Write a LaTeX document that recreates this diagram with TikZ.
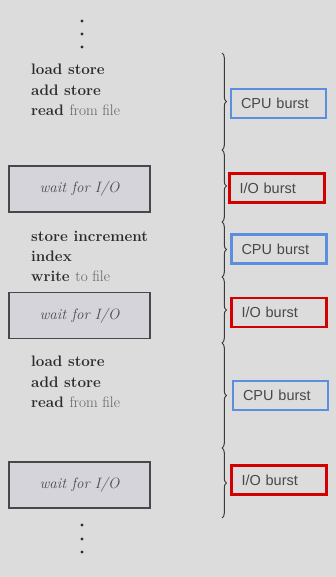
\documentclass[tikz,border=0pt]{standalone}
\usepackage{fontspec}
\newfontfamily\labelfont{Liberation Sans}
\usetikzlibrary{decorations.pathreplacing}
\definecolor{bg}{HTML}{DCDCDC}
\definecolor{boxfill}{HTML}{D5D4DB}
\definecolor{boxline}{HTML}{484848}
\definecolor{cpublue}{HTML}{5B8EDC}
\definecolor{iored}{HTML}{D20000}
\definecolor{darktext}{HTML}{2C2C2C}
\definecolor{lighttext}{HTML}{626262}
\definecolor{labeltext}{HTML}{484848}
\definecolor{bracecol}{HTML}{3A3A3A}
\begin{document}
\begin{tikzpicture}[x=1pt,y=-1pt,
  code/.style={anchor=base west,inner sep=0pt,font=\fontsize{15.2}{18}\selectfont\bfseries,text=darktext},
  waitbox/.style={draw=boxline,fill=boxfill,line width=1.4pt,minimum width=141pt,minimum height=46pt,
    inner sep=0pt,font=\fontsize{15}{18}\selectfont\itshape,text=darktext!85},
  burstbox/.style={line width=2.4pt,minimum width=95pt,minimum height=29pt,text width=75pt,align=left,
    inner xsep=10pt,inner ysep=0pt,font=\labelfont\fontsize{14.5}{16}\selectfont,text=labeltext},
  cpubox/.style={burstbox,draw=cpublue},
  iobox/.style={burstbox,draw=iored},
  bracedeco/.style={draw=bracecol,line width=1pt,decorate,decoration={brace,amplitude=4.5pt}},
  dot/.style={circle,fill=darktext,inner sep=0pt,minimum size=3.2pt}]
\fill[bg] (0,0) rectangle (336,577);
\useasboundingbox (0,0) rectangle (336,577);
% dots
\node[dot] (d1) at (82,21) {};
\node[dot] (d2) at (82,34) {};
\node[dot] (d3) at (82,47) {};
\node[dot] (d4) at (82,525) {};
\node[dot] (d5) at (82,539) {};
\node[dot] (d6) at (82,552) {};
% group 1
\node[code] (a1) at (31,75) {load store};
\node[code] (a2) at (31,95.5) {add store};
\node[code] (a3) at (31,116) {read \textcolor{lighttext}{\mdseries from file}};
\node[waitbox] (w1) at (79.5,189) {wait for I/O};
% group 2
\node[code] (b1) at (31,241) {store increment};
\node[code] (b2) at (31,261.5) {index};
\node[code] (b3) at (31,281.5) {write \textcolor{lighttext}{\mdseries to file}};
\node[waitbox] (w2) at (79.5,315.5) {wait for I/O};
% group 3
\node[code] (c1) at (31,366.5) {load store};
\node[code] (c2) at (31,387) {add store};
\node[code] (c3) at (31,407.5) {read \textcolor{lighttext}{\mdseries from file}};
\node[waitbox] (w3) at (79.5,485) {wait for I/O};
% braces
\coordinate (k0) at (222,53);
\coordinate (k1) at (222,150);
\coordinate (k2) at (222,222);
\coordinate (k3) at (222,277);
\coordinate (k4) at (222,343);
\coordinate (k5) at (222,448);
\coordinate (k6) at (222,518);
\draw[bracedeco] (k0) -- (k1);
\draw[bracedeco] (k1) -- (k2);
\draw[bracedeco] (k2) -- (k3);
\draw[bracedeco] (k3) -- (k4);
\draw[bracedeco] (k4) -- (k5);
\draw[bracedeco] (k5) -- (k6);
% bursts
\node[cpubox] (p1) at (278.5,103.5) {CPU burst};
\node[iobox] (q1) at (277,188) {I/O burst};
\node[cpubox] (p2) at (279,249) {CPU burst};
\node[iobox] (q2) at (279,312.5) {I/O burst};
\node[cpubox] (p3) at (280.5,395.5) {CPU burst};
\node[iobox] (q3) at (279,480) {I/O burst};
\end{tikzpicture}
\end{document}
